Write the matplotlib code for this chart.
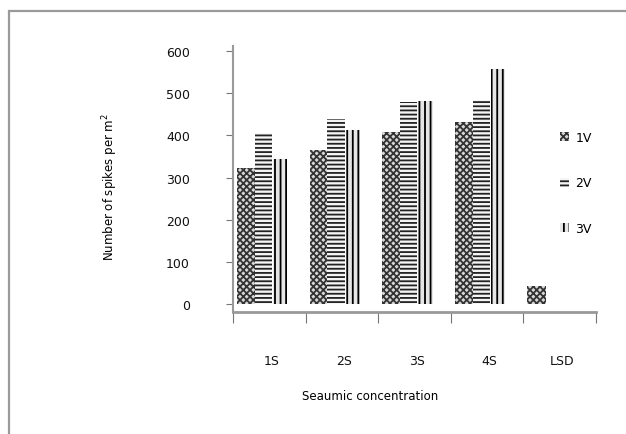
import matplotlib
matplotlib.use('Agg')
import matplotlib.pyplot as plt
from matplotlib.patches import Patch, Rectangle
import numpy as np

categories = ['1S', '2S', '3S', '4S', 'LSD']
v1 = [322, 365, 408, 432, 42]
v2 = [405, 440, 478, 485, None]
v3 = [345, 412, 482, 558, None]
series_names = ['1V', '2V', '3V']

plt.rcParams['hatch.linewidth'] = 1.3

fig = plt.figure(figsize=(6.26, 4.35), dpi=100)
# outer chart border (cut off at right/bottom like the reference)
fig.patches.append(Rectangle((9 / 626, -0.2), 1.2, 0.2 + (435 - 12) / 435,
                             transform=fig.transFigure, fill=False,
                             edgecolor='#9a9a9a', lw=1.6))

ax = fig.add_axes([233 / 626, (435 - 313) / 435, 363 / 626, 266 / 435])

x = np.arange(len(categories))
styles = [
    dict(offset=0.18, width=0.25, face='#d8d8d8', hatch='xxxxx', edge='#333333'),
    dict(offset=0.42, width=0.24, face='#f4f4f4', hatch='----', edge='#222222'),
    dict(offset=0.65, width=0.20, face='#e6e6e6', hatch='|||', edge='black'),
]
for vals, st in zip([v1, v2, v3], styles):
    xs = [xi + st['offset'] for xi, v in zip(x, vals) if v is not None]
    hs = [v for v in vals if v is not None]
    ax.bar(xs, hs, width=st['width'], color=st['face'], hatch=st['hatch'],
           edgecolor=st['edge'], linewidth=0, zorder=3)

ax.set_xlim(0, 5)
ax.set_ylim(-19, 612)
ax.set_yticks(range(0, 601, 100))
ax.set_xticks(range(0, 6))
ax.set_xticklabels([])
ax.set_xticks(x + 0.53, minor=True)
ax.set_xticklabels(categories, minor=True, fontsize=9, color='#111111')
ax.tick_params(axis='x', which='minor', length=0, pad=30)
ax.tick_params(axis='x', which='major', length=8, color='#777777', direction='out')
ax.tick_params(axis='y', length=5, color='#777777', labelsize=9,
               labelcolor='#111111', pad=26)

for s in ['top', 'right']:
    ax.spines[s].set_visible(False)
ax.spines['left'].set_color('#999999')
ax.spines['bottom'].set_color('#999999')
ax.spines['left'].set_linewidth(1.5)
ax.spines['bottom'].set_linewidth(2)

fig.text(370 / 626, (435 - 397) / 435, 'Seaumic concentration',
         ha='center', va='center', fontsize=8.5, color='#000000')
fig.text(110 / 626, (435 - 187) / 435, 'Number of spikes per m$^2$',
         ha='center', va='center', rotation=90, fontsize=8.5, color='#000000')

handles = [Patch(facecolor=st['face'], hatch=st['hatch'], edgecolor=st['edge'],
                 linewidth=0) for st in styles]
fig.legend(handles, series_names, loc='center left',
           bbox_to_anchor=(549 / 626, (435 - 184) / 435), frameon=False,
           handlelength=0.7, handleheight=0.7, labelspacing=2.6,
           handletextpad=0.5, fontsize=9)

fig.savefig('out.png', dpi=100)
